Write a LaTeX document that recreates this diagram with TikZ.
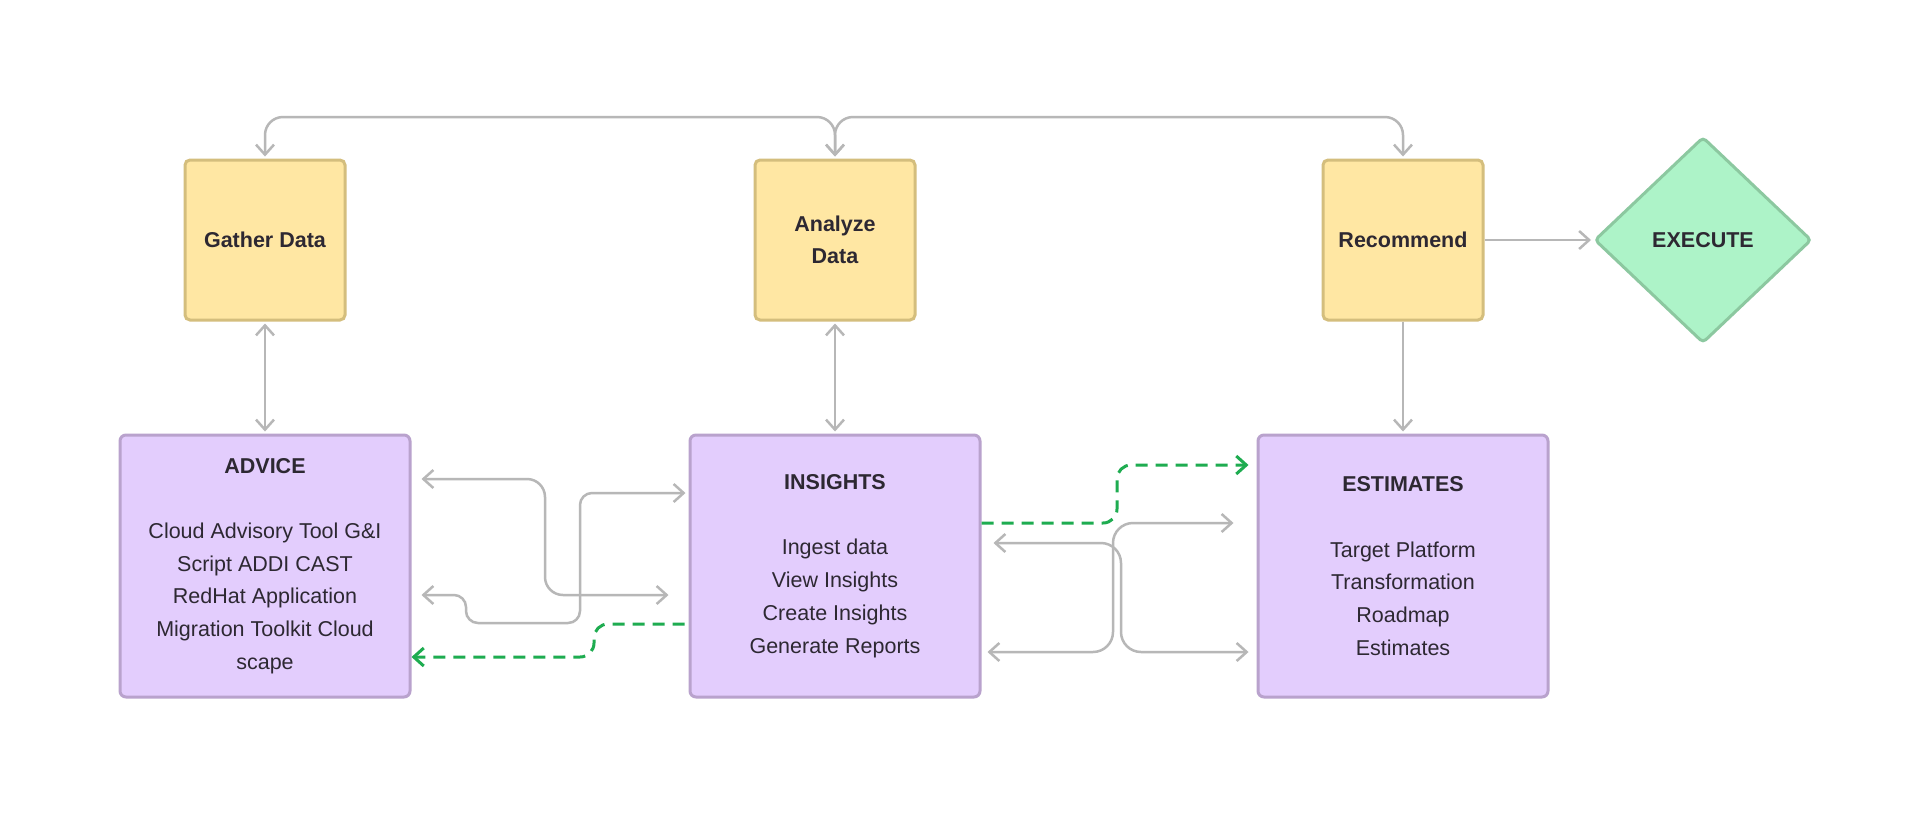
\documentclass[tikz,border=0pt]{standalone}
\usepackage{fontspec}
\setmainfont{Liberation Sans}
\usetikzlibrary{positioning, arrows.meta, shapes.geometric}

\definecolor{ink}{RGB}{45,40,50}
\definecolor{stagefill}{RGB}{255,231,163}
\definecolor{stageline}{RGB}{212,190,125}
\definecolor{panelfill}{RGB}{227,205,253}
\definecolor{panelline}{RGB}{185,162,205}
\definecolor{goalfill}{RGB}{173,243,200}
\definecolor{goalline}{RGB}{140,200,160}
\definecolor{linkgray}{RGB}{183,183,183}
\definecolor{handoffgreen}{RGB}{30,172,80}

\begin{document}
\begin{tikzpicture}[
    x=1pt, y=-1pt,
    font=\fontsize{21.5}{32.7}\selectfont,
    text=ink,
    stage/.style={
        draw=stageline,
        fill=stagefill,
        rounded corners=5pt,
        line width=3pt,
        minimum width=160pt,
        minimum height=160pt,
        align=center,
        font=\fontsize{21.5}{32}\selectfont\bfseries
    },
    goal/.style={
        diamond,
        draw=goalline,
        fill=goalfill,
        rounded corners=4pt,
        line width=3pt,
        minimum width=217pt,
        minimum height=206pt,
        inner sep=0pt,
        font=\fontsize{21.5}{32}\selectfont\bfseries
    },
    panel/.style={
        draw=panelline,
        fill=panelfill,
        rounded corners=6pt,
        line width=3pt,
        minimum width=290pt,
        minimum height=262pt,
        align=center
    },
    link/.style={
        {Straight Barb[length=10pt, width=18pt]}-{Straight Barb[length=10pt, width=18pt]},
        line width=2.5pt,
        draw=linkgray,
        rounded corners=18pt,
        shorten <=2pt,
        shorten >=2pt
    },
    oneway/.style={
        -{Straight Barb[length=10pt, width=18pt]},
        line width=2.5pt,
        draw=linkgray,
        shorten >=2pt
    },
    handoff/.style={
        -{Straight Barb[length=10pt, width=18pt]},
        line width=3pt,
        draw=handoffgreen,
        dash pattern=on 12pt off 8pt,
        rounded corners=14pt
    }
]

\path[use as bounding box, fill=white] (0,0) rectangle (1928,815);

% --- Stages (top row) -----------------------------------------------------
\node[stage] (gather)    at (265, 240)  {Gather Data};
\node[stage] (analyze)   at (835, 240)  {Analyze\\Data};
\node[stage] (recommend) at (1403, 240) {Recommend};
\node[goal]  (execute)   at (1703, 240) {EXECUTE};

% --- Panels (bottom row) --------------------------------------------------
\node[panel] (advice) at (265, 566)
    {\textbf{ADVICE}\\[32.7pt]
     Cloud Advisory Tool G\&I\\
     Script ADDI CAST\\
     RedHat Application\\
     Migration Toolkit Cloud\\
     scape};
\node[panel] (insights) at (835, 566)
    {\textbf{INSIGHTS}\\[32.7pt]
     Ingest data\\
     View Insights\\
     Create Insights\\
     Generate Reports};
\node[panel] (estimates) at (1403, 566)
    {\textbf{ESTIMATES}\\[32.7pt]
     Target Platform\\
     Transformation\\
     Roadmap\\
     Estimates};

% --- Loop across the top of the stages ------------------------------------
\coordinate (ridge) at (835, 117);
\draw[link] (gather.north) -- (gather.north |- ridge) -- (ridge) -- (analyze.north);
\draw[link] (recommend.north) -- (recommend.north |- ridge) -- (ridge) -- (analyze.north);

\draw[oneway] (recommend.east) -- (execute.west);

% --- Stages down to panels ------------------------------------------------
\draw[link] (gather.south) -- (advice.north);
\draw[link] (analyze.south) -- (insights.north);
\draw[oneway] (recommend.south) -- (estimates.north);

% --- Advice <-> Insights --------------------------------------------------
\draw[link, shorten <=10pt, shorten >=20pt]
    ([yshift=87pt]advice.east) -| (545, 595) -- ([yshift=-29pt]insights.west);
\draw[link, rounded corners=12pt, shorten <=10pt, shorten >=3pt]
    ([yshift=-29pt]advice.east) -| (466, 623) -| (580, 493)
    -- ([yshift=73pt]insights.west);
\draw[handoff, shorten <=4pt]
    ([yshift=-58pt]insights.west) -| (594, 657) -- ([yshift=-91pt]advice.east);

% --- Insights <-> Estimates -----------------------------------------------
\draw[handoff, shorten >=8pt]
    ([yshift=43pt]insights.east) -| (1117, 465) -- ([yshift=101pt]estimates.west);
\draw[link, rounded corners=20pt, shorten <=12pt, shorten >=8pt]
    ([yshift=23pt]insights.east) -| (1121, 652) -- ([yshift=-86pt]estimates.west);
\draw[link, rounded corners=20pt, shorten <=6pt, shorten >=23pt]
    ([yshift=-86pt]insights.east) -| (1113, 523) -- ([yshift=43pt]estimates.west);

\end{tikzpicture}
\end{document}
